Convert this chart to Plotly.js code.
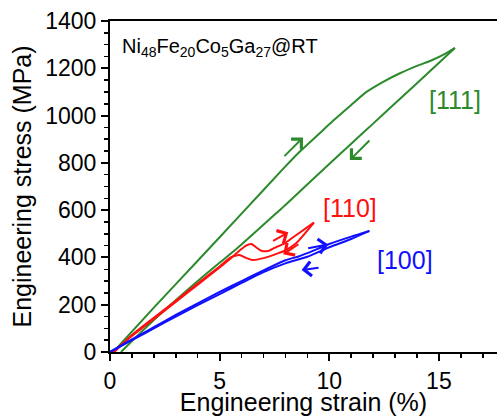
<!DOCTYPE html>
<html><head><meta charset="utf-8">
<script src="https://cdn.plot.ly/plotly-3.0.1.min.js"></script>
<style>html,body{margin:0;padding:0;background:#fff;}#chart{width:497px;height:416px;}</style>
</head><body><div id="chart"></div>
<script>
// [111] loop: loading then unloading
const g111LoadX   = [0.15, 2, 4, 6, 8, 8.66, 9.5, 10.2, 11, 11.7, 12.5, 13.2, 14, 14.7, 15.3, 15.73];
const g111LoadY   = [0, 188, 386, 585, 785, 848, 920, 980, 1045, 1100, 1145, 1178, 1210, 1235, 1262, 1286];
const g111UnloadX = [15.73, 14, 12.77, 12, 10.94, 10, 8, 7.75, 6, 4, 2, 0.5];
const g111UnloadY = [1286, 1137, 1032, 966, 876, 795, 622, 601, 455, 300, 135, 0];

// [110] loop
const r110LoadX   = [0.1, 1, 2, 3, 4, 5, 5.5, 5.9, 6.2, 6.45, 6.7, 6.9, 7.2, 7.5, 8, 8.5, 9.3];
const r110LoadY   = [0, 68, 140, 212, 285, 358, 396, 428, 450, 457, 440, 428, 427, 440, 462, 495, 547];
const r110UnloadX = [9.3, 8.5, 8, 7.5, 7, 6.5, 6.2, 5.9, 5.5, 5, 4, 3, 2, 1, 0.2];
const r110UnloadY = [547, 461, 430, 412, 397, 389, 398, 410, 400, 362, 290, 217, 145, 72, 0];

// [100] loop
const b100LoadX   = [0, 1, 2, 3, 4, 5, 6, 7, 8, 8.6, 9, 10, 11, 11.83];
const b100LoadY   = [0, 53, 105, 157, 206, 254, 300, 345, 388, 404, 418, 457, 488, 512];
const b100UnloadX = [11.83, 11, 10, 9, 8, 7, 6, 5, 4, 3, 2, 1, 0];
const b100UnloadY = [512, 478, 443, 403, 375, 338, 292, 245, 198, 150, 100, 50, 0];

// axis ticks
const xTickVals = [0, 5, 10, 15];
const yTickVals = [0, 200, 400, 600, 800, 1000, 1200, 1400];

// direction arrows: [tailX, tailY, headX, headY, color]
const GREEN = '#2b8a2b', RED = '#ff1010', BLUE = '#1010ff';
const arrows = [
  [7.89, 822, 8.8, 907, GREEN],
  [11.9, 901, 10.94, 812, GREEN],
  [7.37, 467, 8.13, 506, RED],
  [8.66, 460, 7.9, 413, RED],
  [8.97, 438, 9.95, 455, BLUE],
  [9.58, 357, 8.74, 347, BLUE]
];

const FONT = 'Liberation Sans, Arial, sans-serif';
function tr(x, y, c) {
  return {x: x, y: y, type: 'scatter', mode: 'lines',
          line: {color: c, width: 2, shape: 'spline', smoothing: 0.6},
          hoverinfo: 'skip', showlegend: false};
}
const data = [
  tr(g111LoadX, g111LoadY, GREEN),
  tr(g111UnloadX, g111UnloadY, GREEN),
  tr(r110LoadX, r110LoadY, RED),
  tr(r110UnloadX, r110UnloadY, RED),
  tr(b100LoadX, b100LoadY, BLUE),
  tr(b100UnloadX, b100UnloadY, BLUE)
];

const annotations = arrows.map(a => ({
  x: a[2], y: a[3], ax: a[0], ay: a[1], xref: 'x', yref: 'y', axref: 'x', ayref: 'y',
  text: '', showarrow: true, arrowhead: 4, arrowsize: 1.4, arrowwidth: 2, arrowcolor: a[4], standoff: 0
}));
annotations.push(
  {x: 0.45, y: 1290, xref: 'x', yref: 'y', xanchor: 'left', yanchor: 'middle', showarrow: false,
   text: 'Ni<sub>48</sub>Fe<sub>20</sub>Co<sub>5</sub>Ga<sub>27</sub>@RT', font: {family: FONT, size: 20, color: '#000'}},
  {x: 15.73, y: 1066, xref: 'x', yref: 'y', showarrow: false, text: '[111]', font: {family: FONT, size: 25, color: GREEN}},
  {x: 10.94, y: 609, xref: 'x', yref: 'y', showarrow: false, text: '[110]', font: {family: FONT, size: 25, color: RED}},
  {x: 13.45, y: 389, xref: 'x', yref: 'y', showarrow: false, text: '[100]', font: {family: FONT, size: 25, color: BLUE}}
);

const layout = {
  width: 497, height: 416, autosize: false,
  margin: {l: 110, r: 0, t: 21, b: 64, pad: 0},
  paper_bgcolor: '#fff', plot_bgcolor: '#fff',
  font: {family: FONT, size: 22, color: '#000'},
  showlegend: false,
  xaxis: {
    range: [0, 17.65], showgrid: false, zeroline: false,
    showline: true, linecolor: '#000', linewidth: 2, mirror: true,
    ticks: 'outside', ticklen: 7, tickwidth: 2, tickcolor: '#000',
    tickvals: xTickVals, ticktext: xTickVals.map(String),
    tickfont: {family: FONT, size: 23},
    minor: {dtick: 1, tick0: 0, ticks: 'outside', ticklen: 4, tickwidth: 1.5, tickcolor: '#000', showgrid: false},
    title: {text: 'Engineering strain (%)', font: {family: FONT, size: 25}, standoff: 8}
  },
  yaxis: {
    range: [0, 1400], showgrid: false, zeroline: false,
    showline: true, linecolor: '#000', linewidth: 2,
    ticks: 'outside', ticklen: 7, tickwidth: 2, tickcolor: '#000',
    tickvals: yTickVals, ticktext: yTickVals.map(String),
    tickfont: {family: FONT, size: 23},
    minor: {dtick: 50, tick0: 0, ticks: 'outside', ticklen: 4, tickwidth: 1.5, tickcolor: '#000', showgrid: false},
    title: {text: 'Engineering stress (MPa)', font: {family: FONT, size: 25}, standoff: 6}
  },
  annotations: annotations
};

Plotly.newPlot('chart', data, layout, {staticPlot: true, displayModeBar: false});
</script>
</body></html>
